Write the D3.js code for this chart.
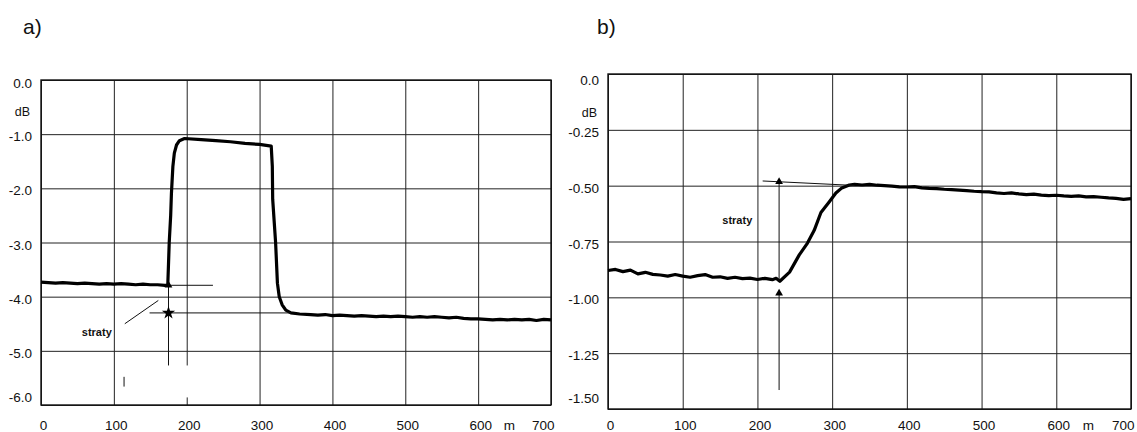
<!DOCTYPE html>
<html>
<head>
<meta charset="utf-8">
<script src="https://cdn.jsdelivr.net/npm/d3@7/dist/d3.min.js"></script>
<style>
  body { margin: 0; background: #fff; }
  svg text { font-family: "Liberation Sans", Arial, sans-serif; fill: #111; }
</style>
</head>
<body>
<svg id="chart" width="1137" height="432"></svg>
<script>
// axis ticks
const xTicks = [0, 100, 200, 300, 400, 500, 600, 700];
const yTicksA = [0, -1, -2, -3, -4, -5, -6];
const yLabelsA = ["0.0", "-1.0", "-2.0", "-3.0", "-4.0", "-5.0", "-6.0"];
const yTicksB = [0, -0.25, -0.5, -0.75, -1, -1.25, -1.5];
const yLabelsB = ["0.0", "-0.25", "-0.50", "-0.75", "-1.00", "-1.25", "-1.50"];

// trace a) distance (m) / level (dB)
const distA = [0, 10, 20, 30, 40, 50, 60, 70, 80, 90, 100, 110, 120, 130, 140, 150, 160, 170, 174,
  175, 176, 178, 179, 181, 183, 186, 190, 197,
  220, 240, 260, 280, 300, 316,
  317.5, 318, 320, 322, 324.5, 327, 331, 336, 343, 355,
  370, 380, 390, 400, 410, 420, 430, 440, 450, 460, 470, 480, 490, 500, 510, 520, 530, 540,
  550, 560, 570, 580, 590, 600, 610, 620, 630, 640, 650, 660, 670, 680, 690, 700];
const lossA = [-3.73, -3.74, -3.75, -3.74, -3.75, -3.76, -3.75, -3.76, -3.77, -3.76, -3.77, -3.76, -3.77, -3.78, -3.77, -3.78, -3.78, -3.79, -3.79,
  -3.4, -3.0, -2.5, -2.1, -1.6, -1.35, -1.2, -1.12, -1.08,
  -1.1, -1.12, -1.14, -1.17, -1.19, -1.22,
  -1.6, -2.2, -2.6, -3.0, -3.75, -4.0, -4.15, -4.25, -4.3, -4.32,
  -4.33, -4.34, -4.33, -4.35, -4.34, -4.35, -4.36, -4.35, -4.36, -4.37, -4.36, -4.37, -4.36, -4.37, -4.38, -4.37, -4.38, -4.37,
  -4.38, -4.39, -4.38, -4.4, -4.41, -4.41, -4.42, -4.43, -4.42, -4.43, -4.42, -4.43, -4.42, -4.44, -4.42, -4.43];

// trace b)
const distB = [0, 10, 20, 30, 40, 50, 60, 70, 80, 90, 100, 110, 120, 130, 140, 150, 160, 170, 180, 190, 200, 210, 220, 225, 230,
  243, 256, 267, 276, 285, 296, 305, 313, 323,
  330, 340, 350, 360, 370, 380, 390, 400, 410, 420, 430, 440, 450, 460, 470, 480, 490, 500, 510, 520, 530,
  540, 550, 560, 570, 580, 590, 600, 610, 620, 630, 640, 650, 660, 670, 680, 690, 700];
const lossB = [-0.88, -0.875, -0.885, -0.878, -0.895, -0.888, -0.897, -0.9, -0.905, -0.898, -0.905, -0.91, -0.903, -0.898, -0.91, -0.908, -0.915, -0.91, -0.916, -0.914, -0.92, -0.915, -0.921, -0.915, -0.928,
  -0.887, -0.81, -0.757, -0.7, -0.62, -0.573, -0.533, -0.51, -0.497,
  -0.494, -0.497, -0.494, -0.498, -0.5, -0.502, -0.505, -0.506, -0.504, -0.51, -0.512, -0.513, -0.516, -0.518, -0.52, -0.522, -0.525, -0.527, -0.528, -0.532, -0.535,
  -0.532, -0.537, -0.54, -0.538, -0.542, -0.545, -0.543, -0.546, -0.548, -0.546, -0.55, -0.549, -0.552, -0.555, -0.557, -0.561, -0.558];

const svg = d3.select("#chart");

function panel(cfg) {
  const x = d3.scaleLinear().domain([0, 700]).range([cfg.left, cfg.left + cfg.width]);
  const y = d3.scaleLinear().domain([0, cfg.yMin]).range([cfg.top, cfg.top + cfg.height]);
  const g = svg.append("g");

  // grid
  g.append("g")
    .attr("transform", "translate(0," + (cfg.top + cfg.height) + ")")
    .call(d3.axisBottom(x).tickValues(xTicks).tickSize(-cfg.height).tickFormat(""))
    .call(s => s.select(".domain").remove())
    .selectAll("line").attr("stroke", "#222").attr("stroke-width", 1);
  g.append("g")
    .attr("transform", "translate(" + cfg.left + ",0)")
    .call(d3.axisLeft(y).tickValues(cfg.yTicks).tickSize(-cfg.width).tickFormat(""))
    .call(s => s.select(".domain").remove())
    .selectAll("line").attr("stroke", "#222").attr("stroke-width", 1);

  if (cfg.gridGap) {
    g.append("line")
      .attr("x1", x(cfg.gridGap[0])).attr("x2", x(cfg.gridGap[0]))
      .attr("y1", y(cfg.gridGap[1])).attr("y2", y(cfg.gridGap[2]))
      .attr("stroke", "#fff").attr("stroke-width", 3);
  }

  g.append("rect")
    .attr("x", cfg.left).attr("y", cfg.top)
    .attr("width", cfg.width).attr("height", cfg.height)
    .attr("fill", "none").attr("stroke", "#111").attr("stroke-width", 1.4);

  // y labels
  const ya = g.append("g")
    .attr("transform", "translate(" + cfg.left + ",0)")
    .call(d3.axisLeft(y).tickValues(cfg.yTicks).tickSize(0).tickPadding(9)
      .tickFormat((d, i) => cfg.yLabels[i]));
  ya.select(".domain").remove();
  ya.selectAll("text")
    .attr("font-size", 13.5)
    .attr("fill", "#111")
    .attr("dy", (d, i) => {
      let n = 2;
      if (i === 0) n = cfg.firstNudge;
      if (i === cfg.yTicks.length - 1) n = cfg.lastNudge;
      return (4.5 + n) + "px";
    });

  // x labels
  const xa = g.append("g")
    .attr("transform", "translate(0," + (cfg.top + cfg.height) + ")")
    .call(d3.axisBottom(x).tickValues(xTicks).tickSize(0).tickFormat(d3.format("d")));
  xa.select(".domain").remove();
  xa.selectAll("text")
    .attr("font-size", 13.5)
    .attr("fill", "#111")
    .attr("dy", null)
    .attr("y", 430 - (cfg.top + cfg.height))
    .attr("text-anchor", d => d === 700 ? "end" : "middle")
    .attr("dx", d => d === 700 ? 3 : 2);

  g.append("text")
    .attr("x", x(643)).attr("y", 430)
    .attr("text-anchor", "middle").attr("font-size", 13.5)
    .text("m");

  g.append("text")
    .attr("x", cfg.left - 11).attr("y", cfg.dbY)
    .attr("text-anchor", "end").attr("font-size", 12.5)
    .text("dB");

  g.append("text")
    .attr("x", cfg.titleX).attr("y", 34)
    .attr("font-size", 21)
    .text(cfg.title);

  // trace
  g.append("path")
    .datum(d3.zip(cfg.dist, cfg.loss))
    .attr("fill", "none")
    .attr("stroke", "#000")
    .attr("stroke-width", 3.2)
    .attr("stroke-linejoin", "round")
    .attr("d", d3.line().x(d => x(d[0])).y(d => y(d[1])));

  // annotation lines
  g.selectAll(".ann")
    .data(cfg.annLines)
    .enter()
    .append("line")
    .attr("x1", d => x(d[0][0])).attr("y1", d => y(d[0][1]))
    .attr("x2", d => x(d[1][0])).attr("y2", d => y(d[1][1]))
    .attr("stroke", "#111").attr("stroke-width", 1);

  g.selectAll(".mk")
    .data(cfg.markers)
    .enter()
    .append("path")
    .attr("transform", d => "translate(" + x(d[0]) + "," + y(d[1]) + ")")
    .attr("d", d => d3.symbol().type(d[2] === "star" ? d3.symbolStar : d3.symbolTriangle).size(d[2] === "star" ? 55 : 26)())
    .attr("fill", "#000");

  g.append("text")
    .attr("x", x(cfg.label[0])).attr("y", y(cfg.label[1]))
    .attr("font-size", 11).attr("font-weight", "bold")
    .text("straty");
}

panel({
  title: "a)", titleX: 23,
  left: 41, top: 80, width: 510, height: 325,
  yMin: -6, yTicks: yTicksA, yLabels: yLabelsA,
  firstNudge: 3, lastNudge: -8, dbY: 116,
  dist: distA, loss: lossA,
  gridGap: [200, -5.27, -5.86],
  annLines: [
    [[175, -3.79], [236, -3.79]],
    [[149, -4.3], [343, -4.3]],
    [[175, -3.79], [175, -5.27]],
    [[115, -4.5], [161, -4.07]],
    [[114, -5.48], [114, -5.66]]
  ],
  markers: [[175, -3.79, "tri"], [175, -4.3, "star"]],
  label: [56, -4.73]
});

panel({
  title: "b)", titleX: 597,
  left: 608, top: 74, width: 523, height: 335,
  yMin: -1.5, yTicks: yTicksB, yLabels: yLabelsB,
  firstNudge: 6, lastNudge: -11, dbY: 117,
  dist: distB, loss: lossB,
  annLines: [
    [[207, -0.479], [330, -0.499]],
    [[229, -0.484], [229, -0.925]],
    [[229, -0.985], [229, -1.415]]
  ],
  markers: [[229, -0.482, "tri"], [229, -0.982, "tri"]],
  label: [153, -0.67]
});
</script>
</body>
</html>
